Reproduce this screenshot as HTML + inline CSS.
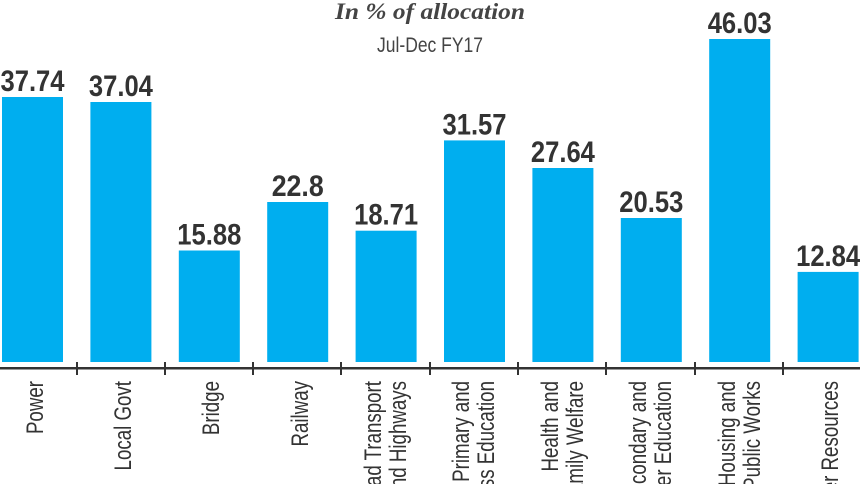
<!DOCTYPE html>
<html><head><meta charset="utf-8"><style>
html,body{margin:0;padding:0;background:#fff;width:860px;height:484px;overflow:hidden}
svg{display:block;overflow:hidden}
.v{font-family:"Liberation Sans",sans-serif;font-weight:bold;font-size:30px;fill:#333;text-anchor:middle}
.l{font-family:"Liberation Sans",sans-serif;font-size:24px;fill:#333;text-anchor:end}
</style></head><body>
<svg width="860" height="484" viewBox="0 0 860 484">
<text x="430" y="19" text-anchor="middle" font-family="Liberation Serif,serif" font-style="italic" font-weight="bold" font-size="23" fill="#444" textLength="190" lengthAdjust="spacingAndGlyphs">In % of allocation</text>
<text x="430" y="52" text-anchor="middle" font-family="Liberation Sans,sans-serif" font-size="21" fill="#444" textLength="106" lengthAdjust="spacingAndGlyphs">Jul-Dec FY17</text>
<g fill="#00AEEF">
<rect x="2" y="97" width="61" height="265"/>
<rect x="90.4" y="102" width="61" height="260"/>
<rect x="178.8" y="250.5" width="61" height="111.5"/>
<rect x="267.2" y="202" width="61" height="160"/>
<rect x="355.6" y="230.7" width="61" height="131.3"/>
<rect x="444" y="140.4" width="61" height="221.6"/>
<rect x="532.4" y="168" width="61" height="194"/>
<rect x="620.8" y="218" width="61" height="144"/>
<rect x="709.2" y="39" width="61" height="323"/>
<rect x="797.6" y="271.9" width="61" height="90.1"/>
</g>
<g class="v">
<text x="32.5" y="91" textLength="64" lengthAdjust="spacingAndGlyphs">37.74</text>
<text x="120.9" y="96" textLength="64" lengthAdjust="spacingAndGlyphs">37.04</text>
<text x="209.3" y="244.5" textLength="64" lengthAdjust="spacingAndGlyphs">15.88</text>
<text x="297.7" y="196" textLength="52" lengthAdjust="spacingAndGlyphs">22.8</text>
<text x="386.1" y="224.7" textLength="64" lengthAdjust="spacingAndGlyphs">18.71</text>
<text x="474.5" y="134.4" textLength="64" lengthAdjust="spacingAndGlyphs">31.57</text>
<text x="562.9" y="162" textLength="64" lengthAdjust="spacingAndGlyphs">27.64</text>
<text x="651.3" y="212" textLength="64" lengthAdjust="spacingAndGlyphs">20.53</text>
<text x="739.7" y="33" textLength="64" lengthAdjust="spacingAndGlyphs">46.03</text>
<text x="828.1" y="266" textLength="64" lengthAdjust="spacingAndGlyphs">12.84</text>
</g>
<rect x="0" y="367" width="860" height="2.5" fill="#333"/>
<g stroke="#333" stroke-width="2">
<line x1="77" y1="362" x2="77" y2="375"/><line x1="165" y1="362" x2="165" y2="375"/>
<line x1="253" y1="362" x2="253" y2="375"/><line x1="341" y1="362" x2="341" y2="375"/>
<line x1="430" y1="362" x2="430" y2="375"/><line x1="518" y1="362" x2="518" y2="375"/>
<line x1="606" y1="362" x2="606" y2="375"/><line x1="695" y1="362" x2="695" y2="375"/>
<line x1="783" y1="362" x2="783" y2="375"/>
</g>
<g class="l">
<text transform="translate(43,381) rotate(-90) scale(0.78,1)">Power</text>
<text transform="translate(131,381) rotate(-90) scale(0.78,1)">Local Govt</text>
<text transform="translate(219,381) rotate(-90) scale(0.78,1)">Bridge</text>
<text transform="translate(308,381) rotate(-90) scale(0.78,1)">Railway</text>
<text transform="translate(381,381) rotate(-90) scale(0.78,1)">Road Transport</text>
<text transform="translate(406,381) rotate(-90) scale(0.78,1)">and Highways</text>
<text transform="translate(469,381) rotate(-90) scale(0.78,1)">Primary and</text>
<text transform="translate(494,381) rotate(-90) scale(0.78,1)">Mass Education</text>
<text transform="translate(558,381) rotate(-90) scale(0.78,1)">Health and</text>
<text transform="translate(583,381) rotate(-90) scale(0.78,1)">Family Welfare</text>
<text transform="translate(646,381) rotate(-90) scale(0.78,1)">Secondary and</text>
<text transform="translate(671,381) rotate(-90) scale(0.78,1)">Higher Education</text>
<text transform="translate(735,381) rotate(-90) scale(0.78,1)">Housing and</text>
<text transform="translate(760,381) rotate(-90) scale(0.78,1)">Public Works</text>
<text transform="translate(838,381) rotate(-90) scale(0.78,1)">Water Resources</text>
</g>
</svg>
</body></html>
